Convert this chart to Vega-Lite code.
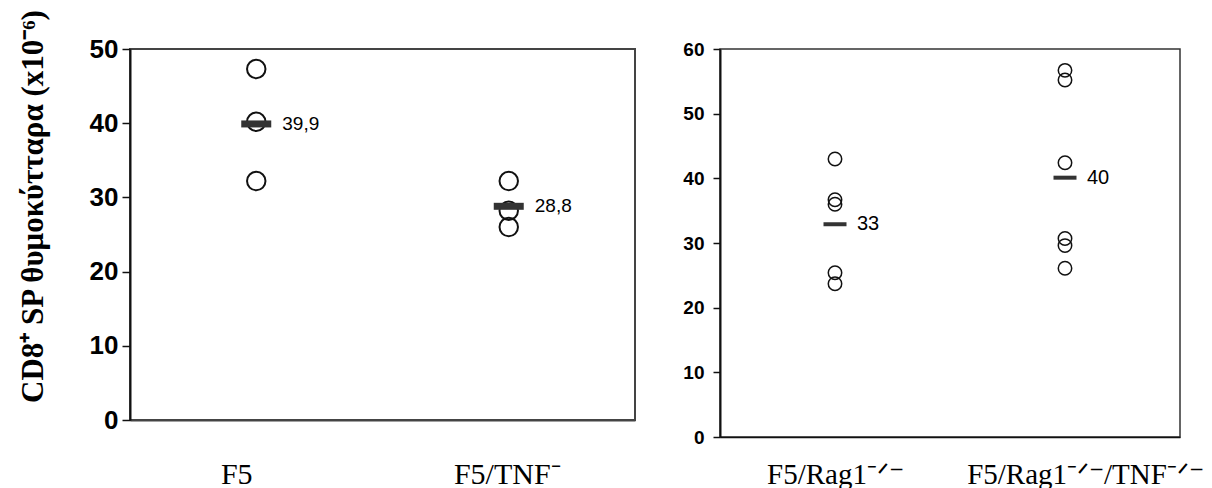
{
  "$schema": "https://vega.github.io/schema/vega-lite/v6.json",
  "background": "white",
  "autosize": {"type": "pad"},
  "padding": {"left": 16, "top": 7, "right": 0, "bottom": 0},
  "spacing": 46,
  "datasets": {
    "leftPts": [
      {"group": "F5", "value": 47.3},
      {"group": "F5", "value": 40.2},
      {"group": "F5", "value": 32.2},
      {"group": "F5/TNF⁻", "value": 32.2},
      {"group": "F5/TNF⁻", "value": 28.2},
      {"group": "F5/TNF⁻", "value": 26.0}
    ],
    "leftMean": [
      {"group": "F5", "mean": 39.9, "label": "39,9"},
      {"group": "F5/TNF⁻", "mean": 28.8, "label": "28,8"}
    ],
    "rightPts": [
      {"group": "F5/Rag1⁻ᐟ⁻", "value": 43.0},
      {"group": "F5/Rag1⁻ᐟ⁻", "value": 36.7},
      {"group": "F5/Rag1⁻ᐟ⁻", "value": 36.0},
      {"group": "F5/Rag1⁻ᐟ⁻", "value": 25.4},
      {"group": "F5/Rag1⁻ᐟ⁻", "value": 23.7},
      {"group": "F5/Rag1⁻ᐟ⁻/TNF⁻ᐟ⁻", "value": 56.7},
      {"group": "F5/Rag1⁻ᐟ⁻/TNF⁻ᐟ⁻", "value": 55.2},
      {"group": "F5/Rag1⁻ᐟ⁻/TNF⁻ᐟ⁻", "value": 42.4},
      {"group": "F5/Rag1⁻ᐟ⁻/TNF⁻ᐟ⁻", "value": 30.7},
      {"group": "F5/Rag1⁻ᐟ⁻/TNF⁻ᐟ⁻", "value": 29.6},
      {"group": "F5/Rag1⁻ᐟ⁻/TNF⁻ᐟ⁻", "value": 26.1}
    ],
    "rightMean": [
      {"group": "F5/Rag1⁻ᐟ⁻", "mean": 32.9, "label": "33"},
      {"group": "F5/Rag1⁻ᐟ⁻/TNF⁻ᐟ⁻", "mean": 40.1, "label": "40"}
    ]
  },
  "config": {
    "axis": {"grid": false, "domainColor": "#111", "tickColor": "#111", "labelColor": "#000", "titleColor": "#000"}
  },
  "hconcat": [
    {
      "width": 505,
      "height": 371,
      "view": {"stroke": "#444", "strokeWidth": 2},
      "encoding": {
        "x": {
          "field": "group", "type": "nominal", "sort": null,
          "scale": {"type": "point", "padding": 0.5},
          "axis": {
            "title": null, "labelAngle": 0, "ticks": false, "domainWidth": 2, "domainColor": "#444",
            "labelFont": "Liberation Serif", "labelFontSize": 30, "labelFontWeight": "normal",
            "labelBaseline": "alphabetic", "labelPadding": 63, "labelLimit": 0,
            "labelOffset": {"condition": {"test": "datum.value === 'F5'", "value": -20}, "value": -2}
          }
        }
      },
      "layer": [
        {
          "data": {"name": "leftPts"},
          "mark": {"type": "point", "shape": "circle", "filled": false, "stroke": "#111", "strokeWidth": 2, "size": 340, "opacity": 1},
          "encoding": {
            "y": {
              "field": "value", "type": "quantitative",
              "scale": {"domain": [0, 50], "nice": false, "zero": true},
              "axis": {
                "values": [0, 10, 20, 30, 40, 50], "tickSize": 8, "tickWidth": 1.5, "domainWidth": 2,
                "labelFont": "Liberation Sans", "labelFontSize": 26, "labelFontWeight": "bold", "labelPadding": 4,
                "title": "CD8⁺ SP θυμοκύτταρα (x10⁻⁶)",
                "titleFont": "Liberation Serif", "titleFontSize": 31, "titleFontWeight": "bold",
                "titlePadding": 40, "titleY": 157
              }
            }
          }
        },
        {
          "data": {"name": "leftMean"},
          "mark": {"type": "tick", "color": "#333", "size": 30, "thickness": 7, "opacity": 1},
          "encoding": {"y": {"field": "mean", "type": "quantitative"}}
        },
        {
          "data": {"name": "leftMean"},
          "mark": {"type": "text", "align": "left", "baseline": "middle", "dx": 26, "font": "Liberation Sans", "fontSize": 19, "color": "#000"},
          "encoding": {"y": {"field": "mean", "type": "quantitative"}, "text": {"field": "label"}}
        }
      ]
    },
    {
      "width": 460,
      "height": 388,
      "view": {"stroke": "#333", "strokeWidth": 1.5},
      "encoding": {
        "x": {
          "field": "group", "type": "nominal", "sort": null,
          "scale": {"type": "point", "padding": 0.5},
          "axis": {
            "title": null, "labelAngle": 0, "ticks": false, "domainWidth": 1.5,
            "labelFont": "Liberation Serif", "labelFontSize": 29, "labelFontWeight": "normal",
            "labelBaseline": "alphabetic", "labelPadding": 46, "labelLimit": 0,
            "labelOffset": {"condition": {"test": "datum.value === 'F5/Rag1⁻ᐟ⁻'", "value": 0}, "value": 20}
          }
        }
      },
      "layer": [
        {
          "data": {"name": "rightPts"},
          "mark": {"type": "point", "shape": "circle", "filled": false, "stroke": "#111", "strokeWidth": 1.5, "size": 180, "opacity": 1},
          "encoding": {
            "y": {
              "field": "value", "type": "quantitative",
              "scale": {"domain": [0, 60], "nice": false, "zero": true},
              "axis": {
                "values": [0, 10, 20, 30, 40, 50, 60], "tickSize": 7, "tickWidth": 1.5, "domainWidth": 2,
                "labelFont": "Liberation Sans", "labelFontSize": 19, "labelFontWeight": "bold", "labelPadding": 9,
                "title": null
              }
            }
          }
        },
        {
          "data": {"name": "rightMean"},
          "mark": {"type": "tick", "color": "#333", "size": 23, "thickness": 4, "opacity": 1},
          "encoding": {"y": {"field": "mean", "type": "quantitative"}}
        },
        {
          "data": {"name": "rightMean"},
          "mark": {"type": "text", "align": "left", "baseline": "middle", "dx": 22, "font": "Liberation Sans", "fontSize": 20, "color": "#000"},
          "encoding": {"y": {"field": "mean", "type": "quantitative"}, "text": {"field": "label"}}
        }
      ]
    }
  ]
}
